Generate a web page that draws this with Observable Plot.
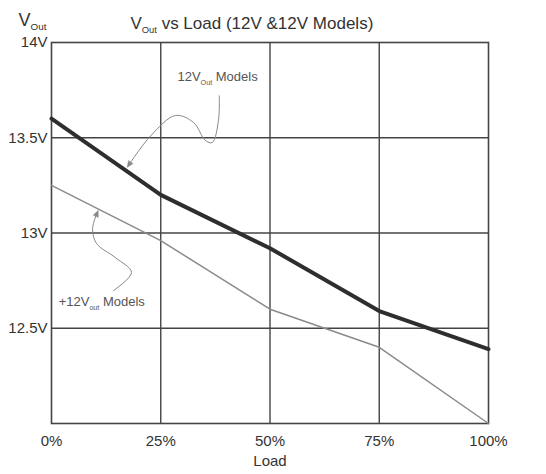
<!DOCTYPE html>
<html><head><meta charset="utf-8">
<script src="https://cdn.jsdelivr.net/npm/d3@7"></script>
<script src="https://cdn.jsdelivr.net/npm/@observablehq/plot@0.6"></script>
<style>
body{margin:0;background:#fff;}
#chart svg{font-family:"Liberation Sans","DejaVu Sans",sans-serif;background:#fff;}
</style>
</head><body><div id="chart"></div>
<script>
// Data
const loads = [0, 25, 50, 75, 100];
const vout12Thick = [13.60, 13.20, 12.92, 12.59, 12.39];
const vout12Thin = [13.25, 12.96, 12.60, 12.40, 12.00];
const yTicks = [12.5, 13, 13.5, 14];
const xTicks = [0, 25, 50, 75, 100];
const gridX = [25, 50, 75];
const gridY = [12.5, 13, 13.5];
// annotation labels and leader curves (data coordinates)
const annoLabels = ["12V|Out| Models", "+12V|out| Models"];
const annoX = [38, 11.5];
const annoY = [13.82, 12.64];
const leader1X = [38.4, 38.2, 36.8, 35.2, 32.5, 28.4, 22.7, 17.6];
const leader1Y = [13.72, 13.59, 13.475, 13.486, 13.58, 13.617, 13.51, 13.354];
const leader2X = [14.2, 18.3, 14.6, 10.3, 9.4, 10.5];
const leader2Y = [12.698, 12.793, 12.871, 12.945, 13.024, 13.108];

const thickData = loads.map((x, i) => ({x, y: vout12Thick[i]}));
const thinData = loads.map((x, i) => ({x, y: vout12Thin[i]}));
const l1 = leader1X.map((x, i) => ({x, y: leader1Y[i]}));
const l2 = leader2X.map((x, i) => ({x, y: leader2Y[i]}));
const annos = annoLabels.map((t, i) => ({t, x: annoX[i], y: annoY[i]}));

const ink = "#333";
const chart = Plot.plot({
  width: 546, height: 474,
  marginLeft: 51, marginRight: 58, marginTop: 42, marginBottom: 51,
  x: {domain: [0, 100]},
  y: {domain: [12, 14]},
  style: {fontSize: "15px", color: ink},
  marks: [
    Plot.ruleX(gridX, {stroke: "#444", strokeWidth: 1.4}),
    Plot.ruleY(gridY, {stroke: "#444", strokeWidth: 1.4}),
    Plot.frame({stroke: "#444", strokeWidth: 1.6}),
    Plot.line(thinData, {x: "x", y: "y", stroke: "#8a8a8a", strokeWidth: 1.5}),
    Plot.line(thickData, {x: "x", y: "y", stroke: "#2e2e2e", strokeWidth: 4}),
    Plot.line(l1, {x: "x", y: "y", curve: "catmull-rom", stroke: "#888", strokeWidth: 1, markerEnd: "arrow"}),
    Plot.line(l2, {x: "x", y: "y", curve: "catmull-rom", stroke: "#888", strokeWidth: 1, markerEnd: "arrow"}),
    Plot.text(annos, {x: "x", y: "y", text: "t", fill: "#555", fontSize: 13}),
    Plot.axisY(yTicks, {tickSize: 0, tickPadding: 4, tickFormat: d => d + "V", label: null, fontSize: 15}),
    Plot.axisX(xTicks, {tickSize: 0, tickPadding: 12, tickFormat: d => d + "%", label: null, fontSize: 15}),
    Plot.text(["Load"], {frameAnchor: "bottom", dy: 42, fontSize: 15, fill: ink}),
    Plot.text(["V|Out|"], {frameAnchor: "top-left", dx: -33, dy: -29, textAnchor: "start", fontSize: 18, fill: ink}),
    Plot.text(["V|Out| vs Load (12V &12V Models)"], {frameAnchor: "top-left", dx: 79, dy: -26, textAnchor: "start", fontSize: 17, fill: ink})
  ]
});
// render subscripts marked with |...|
d3.select(chart).selectAll("text").each(function() {
  const t = this.textContent;
  if (!t.includes("|")) return;
  const parts = t.split("|");
  this.textContent = "";
  parts.forEach((p, i) => {
    if (!p) return;
    const ts = document.createElementNS("http://www.w3.org/2000/svg", "tspan");
    ts.textContent = p;
    if (i % 2 === 1) { ts.setAttribute("font-size", "0.55em"); ts.setAttribute("dy", "4"); }
    else if (i > 0) { ts.setAttribute("dy", "-4"); }
    this.appendChild(ts);
  });
});
// filled triangular arrowheads
d3.select(chart).selectAll("marker").each(function() {
  this.setAttribute("markerWidth", 10);
  this.setAttribute("markerHeight", 10);
  const p = this.querySelector("path");
  if (p) { p.setAttribute("d", "M-4,-2.6L2,0L-4,2.6Z"); p.setAttribute("fill", "#888"); p.setAttribute("stroke", "#888"); p.setAttribute("stroke-width", "0.5"); }
});
document.getElementById("chart").appendChild(chart);
</script>
</body></html>
